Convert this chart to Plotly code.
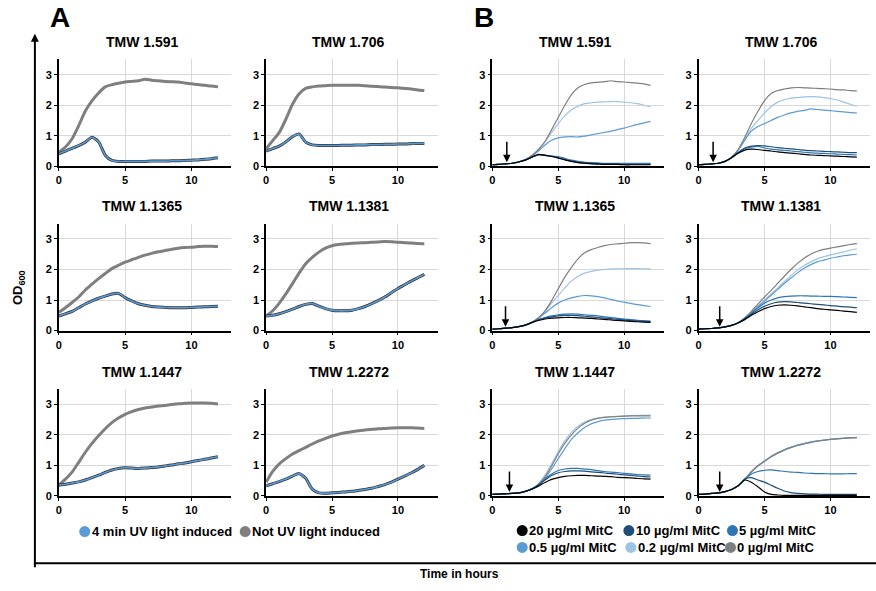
import plotly.graph_objects as go

# ---------------- data ----------------
T = [0, 0.5, 1, 1.5, 2, 2.5, 3, 3.5, 4, 4.5, 5, 5.5, 6, 6.5, 7, 7.5, 8, 8.5, 9, 9.5, 10, 10.5, 11, 11.5, 12]

STRAINS = ["TMW 1.591", "TMW 1.706", "TMW 1.1365", "TMW 1.1381", "TMW 1.1447", "TMW 1.2272"]
X_TICKS = [0, 5, 10]
Y_TICKS = [0, 1, 2, 3]

# Panel A: UV induced / not induced
A_UV_591 = [0.41, 0.5, 0.59, 0.68, 0.79, 0.95, 0.8, 0.36, 0.19, 0.16, 0.16, 0.16, 0.16, 0.16, 0.17, 0.17, 0.17, 0.18, 0.18, 0.19, 0.2, 0.21, 0.23, 0.25, 0.28]
A_NO_591 = [0.46, 0.63, 0.9, 1.33, 1.81, 2.14, 2.4, 2.6, 2.67, 2.72, 2.76, 2.78, 2.8, 2.85, 2.82, 2.8, 2.78, 2.77, 2.76, 2.73, 2.7, 2.68, 2.65, 2.63, 2.6]
A_UV_706 = [0.5, 0.58, 0.66, 0.8, 0.97, 1.06, 0.79, 0.7, 0.68, 0.68, 0.68, 0.68, 0.69, 0.69, 0.7, 0.7, 0.71, 0.71, 0.72, 0.72, 0.73, 0.73, 0.74, 0.75, 0.75]
A_NO_706 = [0.57, 0.84, 1.11, 1.54, 2.03, 2.37, 2.55, 2.6, 2.63, 2.64, 2.65, 2.65, 2.65, 2.65, 2.65, 2.64, 2.62, 2.61, 2.6, 2.58, 2.57, 2.55, 2.53, 2.5, 2.48]
A_UV_1365 = [0.48, 0.55, 0.63, 0.75, 0.87, 0.97, 1.06, 1.13, 1.2, 1.22, 1.08, 0.97, 0.88, 0.83, 0.79, 0.77, 0.76, 0.75, 0.75, 0.75, 0.76, 0.77, 0.78, 0.79, 0.8]
A_NO_1365 = [0.6, 0.75, 0.92, 1.1, 1.33, 1.52, 1.7, 1.87, 2.03, 2.14, 2.24, 2.32, 2.4, 2.47, 2.53, 2.58, 2.62, 2.66, 2.7, 2.72, 2.73, 2.75, 2.76, 2.76, 2.75]
A_UV_1381 = [0.48, 0.5, 0.55, 0.62, 0.7, 0.79, 0.86, 0.89, 0.8, 0.72, 0.67, 0.65, 0.65, 0.67, 0.72, 0.79, 0.88, 0.98, 1.1, 1.24, 1.38, 1.5, 1.62, 1.73, 1.84]
A_NO_1381 = [0.48, 0.65, 0.9, 1.2, 1.54, 1.88, 2.19, 2.4, 2.57, 2.7, 2.78, 2.82, 2.84, 2.86, 2.87, 2.88, 2.89, 2.9, 2.92, 2.91, 2.89, 2.88, 2.87, 2.85, 2.84]
A_UV_1447 = [0.35, 0.38, 0.42, 0.46, 0.52, 0.6, 0.68, 0.77, 0.85, 0.9, 0.92, 0.91, 0.9, 0.91, 0.93, 0.95, 0.98, 1.01, 1.05, 1.08, 1.12, 1.16, 1.2, 1.24, 1.28]
A_NO_1447 = [0.35, 0.55, 0.78, 1.1, 1.43, 1.72, 1.97, 2.2, 2.4, 2.55, 2.67, 2.76, 2.83, 2.88, 2.91, 2.94, 2.96, 2.99, 3.02, 3.03, 3.04, 3.04, 3.04, 3.03, 3.01]
A_UV_2272 = [0.33, 0.4, 0.47, 0.55, 0.65, 0.73, 0.58, 0.22, 0.1, 0.09, 0.1, 0.11, 0.13, 0.15, 0.18, 0.21, 0.25, 0.31, 0.37, 0.45, 0.55, 0.65, 0.75, 0.87, 1.0]
A_NO_2272 = [0.45, 0.8, 1.05, 1.22, 1.37, 1.48, 1.59, 1.7, 1.8, 1.88, 1.96, 2.02, 2.07, 2.1, 2.13, 2.16, 2.18, 2.2, 2.21, 2.22, 2.23, 2.23, 2.23, 2.22, 2.21]

A_LABELS = ["4 min UV light induced", "Not UV light induced"]

# Panel B: mitomycin C concentrations (20, 10, 5, 0.5, 0.2, 0 µg/ml)
B_591_20 = [0.05, 0.06, 0.08, 0.1, 0.14, 0.2, 0.3, 0.39, 0.36, 0.32, 0.27, 0.21, 0.16, 0.12, 0.1, 0.08, 0.07, 0.06, 0.06, 0.06, 0.05, 0.05, 0.05, 0.05, 0.05]
B_591_10 = [0.05, 0.06, 0.08, 0.1, 0.14, 0.2, 0.3, 0.38, 0.37, 0.33, 0.28, 0.22, 0.17, 0.13, 0.11, 0.1, 0.09, 0.08, 0.08, 0.08, 0.07, 0.07, 0.07, 0.07, 0.07]
B_591_5 = [0.05, 0.06, 0.08, 0.1, 0.14, 0.2, 0.3, 0.37, 0.36, 0.33, 0.32, 0.26, 0.2, 0.16, 0.13, 0.12, 0.11, 0.1, 0.1, 0.1, 0.1, 0.1, 0.1, 0.1, 0.1]
B_591_05 = [0.05, 0.06, 0.08, 0.1, 0.14, 0.22, 0.34, 0.5, 0.7, 0.85, 0.93, 0.96, 0.97, 0.96, 0.99, 1.03, 1.07, 1.11, 1.15, 1.2, 1.25, 1.31, 1.37, 1.42, 1.47]
B_591_02 = [0.05, 0.06, 0.08, 0.1, 0.14, 0.22, 0.35, 0.55, 0.8, 1.1, 1.4, 1.65, 1.85, 1.97, 2.05, 2.08, 2.1, 2.11, 2.12, 2.12, 2.1, 2.08, 2.05, 2.0, 1.95]
B_591_0 = [0.05, 0.06, 0.08, 0.1, 0.14, 0.22, 0.35, 0.55, 0.82, 1.2, 1.6, 2.0, 2.35, 2.57, 2.68, 2.73, 2.75, 2.77, 2.8, 2.77, 2.76, 2.74, 2.72, 2.7, 2.65]

B_706_20 = [0.05, 0.06, 0.08, 0.1, 0.16, 0.28, 0.43, 0.53, 0.56, 0.55, 0.52, 0.5, 0.47, 0.45, 0.43, 0.41, 0.39, 0.37, 0.36, 0.35, 0.34, 0.33, 0.32, 0.31, 0.3]
B_706_10 = [0.05, 0.06, 0.08, 0.1, 0.16, 0.28, 0.45, 0.6, 0.66, 0.68, 0.67, 0.64, 0.61, 0.59, 0.57, 0.55, 0.53, 0.51, 0.5, 0.49, 0.48, 0.47, 0.46, 0.45, 0.45]
B_706_5 = [0.05, 0.06, 0.08, 0.1, 0.16, 0.28, 0.45, 0.58, 0.63, 0.65, 0.6, 0.56, 0.54, 0.52, 0.5, 0.48, 0.46, 0.44, 0.43, 0.42, 0.41, 0.4, 0.39, 0.38, 0.37]
B_706_05 = [0.05, 0.06, 0.08, 0.1, 0.16, 0.3, 0.52, 0.85, 1.15, 1.3, 1.4, 1.5, 1.6, 1.68, 1.75, 1.8, 1.83, 1.88, 1.86, 1.84, 1.82, 1.8, 1.78, 1.76, 1.75]
B_706_02 = [0.05, 0.06, 0.08, 0.1, 0.16, 0.3, 0.53, 0.88, 1.25, 1.5, 1.75, 1.95, 2.1, 2.18, 2.23, 2.25, 2.27, 2.28, 2.27, 2.25, 2.22, 2.17, 2.1, 2.03, 1.97]
B_706_0 = [0.05, 0.06, 0.08, 0.1, 0.16, 0.3, 0.55, 0.95, 1.4, 1.8, 2.15, 2.38, 2.48, 2.53, 2.57, 2.58, 2.57, 2.56, 2.55, 2.54, 2.53, 2.51, 2.5, 2.48, 2.47]

B_1365_20 = [0.05, 0.06, 0.08, 0.1, 0.13, 0.18, 0.26, 0.33, 0.38, 0.41, 0.42, 0.43, 0.43, 0.42, 0.41, 0.4, 0.38, 0.37, 0.35, 0.33, 0.32, 0.3, 0.29, 0.28, 0.27]
B_1365_10 = [0.05, 0.06, 0.08, 0.1, 0.13, 0.18, 0.27, 0.35, 0.41, 0.45, 0.48, 0.5, 0.5, 0.49, 0.47, 0.45, 0.43, 0.41, 0.39, 0.37, 0.35, 0.33, 0.32, 0.31, 0.3]
B_1365_5 = [0.05, 0.06, 0.08, 0.1, 0.13, 0.18, 0.27, 0.36, 0.43, 0.48, 0.52, 0.54, 0.55, 0.54, 0.52, 0.5, 0.48, 0.45, 0.43, 0.4, 0.38, 0.36, 0.34, 0.32, 0.3]
B_1365_05 = [0.05, 0.06, 0.08, 0.1, 0.13, 0.18, 0.27, 0.4, 0.57, 0.75, 0.9, 1.0, 1.07, 1.12, 1.15, 1.14, 1.11, 1.07, 1.02, 0.97, 0.93, 0.89, 0.85, 0.82, 0.79]
B_1365_02 = [0.05, 0.06, 0.08, 0.1, 0.13, 0.18, 0.27, 0.42, 0.62, 0.9, 1.15, 1.4, 1.62, 1.78, 1.88, 1.94, 1.98, 2.0, 2.02, 2.02, 2.03, 2.03, 2.03, 2.02, 2.02]
B_1365_0 = [0.05, 0.06, 0.08, 0.1, 0.13, 0.18, 0.27, 0.42, 0.65, 0.98, 1.37, 1.75, 2.07, 2.35, 2.55, 2.65, 2.72, 2.78, 2.82, 2.84, 2.86, 2.88, 2.88, 2.87, 2.85]

B_1381_20 = [0.05, 0.06, 0.07, 0.09, 0.12, 0.17, 0.25, 0.36, 0.5, 0.62, 0.72, 0.79, 0.83, 0.84, 0.83, 0.81, 0.78, 0.75, 0.72, 0.7, 0.68, 0.66, 0.64, 0.62, 0.6]
B_1381_10 = [0.05, 0.06, 0.07, 0.09, 0.12, 0.17, 0.26, 0.38, 0.53, 0.68, 0.8, 0.88, 0.93, 0.95, 0.94, 0.92, 0.9, 0.88, 0.86, 0.84, 0.82, 0.8, 0.78, 0.77, 0.75]
B_1381_5 = [0.05, 0.06, 0.07, 0.09, 0.12, 0.17, 0.26, 0.4, 0.57, 0.75, 0.9, 1.0, 1.07, 1.11, 1.13, 1.14, 1.14, 1.13, 1.13, 1.12, 1.12, 1.11, 1.1, 1.09, 1.08]
B_1381_05 = [0.05, 0.06, 0.07, 0.09, 0.12, 0.17, 0.26, 0.4, 0.58, 0.78, 0.97, 1.16, 1.35, 1.54, 1.72, 1.89, 2.04, 2.16, 2.25, 2.31, 2.37, 2.41, 2.45, 2.48, 2.5]
B_1381_02 = [0.05, 0.06, 0.07, 0.09, 0.12, 0.17, 0.26, 0.4, 0.6, 0.8, 1.0, 1.2, 1.4, 1.6, 1.8, 1.98, 2.13, 2.25, 2.35, 2.42, 2.48, 2.53, 2.58, 2.63, 2.68]
B_1381_0 = [0.05, 0.06, 0.07, 0.09, 0.12, 0.17, 0.26, 0.42, 0.63, 0.87, 1.1, 1.32, 1.55, 1.78, 2.0, 2.2, 2.37, 2.5, 2.6, 2.66, 2.7, 2.74, 2.78, 2.82, 2.85]

B_1447_20 = [0.05, 0.06, 0.07, 0.08, 0.1, 0.15, 0.22, 0.32, 0.44, 0.54, 0.6, 0.64, 0.66, 0.67, 0.67, 0.66, 0.65, 0.64, 0.63, 0.61, 0.6, 0.59, 0.57, 0.56, 0.55]
B_1447_10 = [0.05, 0.06, 0.07, 0.08, 0.1, 0.15, 0.23, 0.35, 0.52, 0.67, 0.76, 0.8, 0.82, 0.82, 0.81, 0.79, 0.77, 0.75, 0.73, 0.71, 0.69, 0.67, 0.65, 0.63, 0.62]
B_1447_5 = [0.05, 0.06, 0.07, 0.08, 0.1, 0.15, 0.23, 0.36, 0.55, 0.72, 0.83, 0.88, 0.9, 0.9, 0.88, 0.86, 0.83, 0.8, 0.78, 0.76, 0.74, 0.72, 0.7, 0.69, 0.68]
B_1447_05 = [0.05, 0.06, 0.07, 0.08, 0.1, 0.15, 0.23, 0.37, 0.58, 0.88, 1.22, 1.55, 1.85, 2.07, 2.24, 2.36, 2.43, 2.48, 2.5, 2.52, 2.53, 2.54, 2.54, 2.55, 2.55]
B_1447_02 = [0.05, 0.06, 0.07, 0.08, 0.1, 0.15, 0.23, 0.4, 0.68, 1.05, 1.45, 1.8, 2.08, 2.28, 2.42, 2.5, 2.55, 2.58, 2.6, 2.61, 2.62, 2.63, 2.64, 2.64, 2.65]
B_1447_0 = [0.05, 0.06, 0.07, 0.08, 0.1, 0.15, 0.23, 0.38, 0.62, 0.98, 1.38, 1.72, 2.0, 2.22, 2.38, 2.48, 2.54, 2.57, 2.59, 2.6, 2.61, 2.62, 2.62, 2.62, 2.62]

B_2272_20 = [0.05, 0.06, 0.08, 0.1, 0.14, 0.21, 0.33, 0.52, 0.45, 0.3, 0.13, 0.05, 0.03, 0.02, 0.02, 0.02, 0.02, 0.02, 0.02, 0.02, 0.02, 0.02, 0.02, 0.02, 0.02]
B_2272_10 = [0.05, 0.06, 0.08, 0.1, 0.14, 0.21, 0.33, 0.55, 0.6, 0.52, 0.45, 0.35, 0.25, 0.16, 0.11, 0.08, 0.07, 0.06, 0.06, 0.05, 0.05, 0.05, 0.05, 0.05, 0.05]
B_2272_5 = [0.05, 0.06, 0.08, 0.1, 0.14, 0.21, 0.33, 0.53, 0.72, 0.8, 0.84, 0.85, 0.83, 0.8, 0.78, 0.77, 0.75, 0.74, 0.73, 0.73, 0.72, 0.72, 0.72, 0.73, 0.73]
B_2272_05 = [0.05, 0.06, 0.08, 0.1, 0.14, 0.21, 0.33, 0.55, 0.79, 0.99, 1.14, 1.29, 1.41, 1.51, 1.59, 1.66, 1.71, 1.76, 1.8, 1.83, 1.85, 1.87, 1.89, 1.9, 1.91]
B_2272_02 = [0.05, 0.06, 0.08, 0.1, 0.14, 0.21, 0.33, 0.55, 0.8, 1.0, 1.15, 1.3, 1.42, 1.52, 1.6, 1.67, 1.72, 1.77, 1.8, 1.83, 1.86, 1.88, 1.89, 1.91, 1.92]
B_2272_0 = [0.05, 0.06, 0.08, 0.1, 0.14, 0.21, 0.33, 0.55, 0.78, 0.98, 1.13, 1.28, 1.4, 1.5, 1.58, 1.65, 1.7, 1.75, 1.79, 1.82, 1.85, 1.87, 1.88, 1.9, 1.91]

B_LABELS = ["20 µg/ml MitC", "10 µg/ml MitC", "5 µg/ml MitC", "0.5 µg/ml MitC", "0.2 µg/ml MitC", "0 µg/ml MitC"]
# time of MitC addition (arrow) per strain, hours
B_ARROW_T = [1.1, 1.1, 1.0, 1.6, 1.3, 1.6]

A_DATA = [(A_UV_591, A_NO_591), (A_UV_706, A_NO_706), (A_UV_1365, A_NO_1365),
          (A_UV_1381, A_NO_1381), (A_UV_1447, A_NO_1447), (A_UV_2272, A_NO_2272)]
B_DATA = [
    [B_591_20, B_591_10, B_591_5, B_591_05, B_591_02, B_591_0],
    [B_706_20, B_706_10, B_706_5, B_706_05, B_706_02, B_706_0],
    [B_1365_20, B_1365_10, B_1365_5, B_1365_05, B_1365_02, B_1365_0],
    [B_1381_20, B_1381_10, B_1381_5, B_1381_05, B_1381_02, B_1381_0],
    [B_1447_20, B_1447_10, B_1447_5, B_1447_05, B_1447_02, B_1447_0],
    [B_2272_20, B_2272_10, B_2272_5, B_2272_05, B_2272_02, B_2272_0],
]

# ---------------- style ----------------
W, H = 876, 591
FONT = "Liberation Sans, Arial, sans-serif"
C_UV = "#5b9bd5"
C_NO = "#7f7f7f"
B_COLORS = ["#000000", "#1f4e79", "#2e75b6", "#5b9bd5", "#9dc3e6", "#7f7f7f"]
B_ORDER = [4, 3, 5, 2, 1, 0]  # draw order (light first)

COL_PX = [(56, 229), (264, 436), (491, 663), (698, 870)]
ROW_PX = [(60, 168), (226, 334), (393, 501)]
TITLE_Y = [42, 208, 376]


def px_x(p):
    return p / W


def px_y(p):
    return 1 - p / H


fig = go.Figure()
layout = {}
annotations = []
shapes = []

panel = 0
for part in ("A", "B"):
    for r in range(3):
        for c in range(2):
            col = c if part == "A" else c + 2
            strain_i = r * 2 + c
            panel += 1
            xa = "x" if panel == 1 else f"x{panel}"
            ya = "y" if panel == 1 else f"y{panel}"
            x0, x1 = COL_PX[col]
            y0, y1 = ROW_PX[r]
            axis_common = dict(
                showline=True, linecolor="black", linewidth=1.6,
                showgrid=True, gridcolor="#d9d9d9", gridwidth=1,
                zeroline=False, ticks="outside", ticklen=3, tickwidth=1.2,
                tickcolor="black",
                tickfont=dict(family=FONT, size=11, color="black", weight="bold"),
            )
            layout["xaxis" if panel == 1 else f"xaxis{panel}"] = dict(
                domain=[px_x(x0), px_x(x1)], anchor=ya, range=[0, 13],
                tickvals=X_TICKS, **axis_common)
            layout["yaxis" if panel == 1 else f"yaxis{panel}"] = dict(
                domain=[px_y(y1), px_y(y0)], anchor=xa, range=[0, 3.5],
                tickvals=Y_TICKS, **axis_common)
            annotations.append(dict(
                text=f"<b>{STRAINS[strain_i]}</b>", x=px_x((x0 + x1) / 2 - 3), y=px_y(TITLE_Y[r]),
                xref="paper", yref="paper", showarrow=False,
                font=dict(family=FONT, size=14, color="black"),
                xanchor="center", yanchor="middle"))
            if part == "A":
                uv, no = A_DATA[strain_i]
                fig.add_trace(go.Scatter(x=T, y=no, xaxis=xa, yaxis=ya, mode="lines",
                                         line=dict(color=C_NO, width=3, shape="spline", smoothing=0.6),
                                         name=A_LABELS[1], showlegend=False))
                fig.add_trace(go.Scatter(x=T, y=uv, xaxis=xa, yaxis=ya, mode="lines",
                                         line=dict(color="#333333", width=3, shape="spline", smoothing=0.6),
                                         showlegend=False, hoverinfo="skip"))
                fig.add_trace(go.Scatter(x=T, y=uv, xaxis=xa, yaxis=ya, mode="lines",
                                         line=dict(color=C_UV, width=1.6, shape="spline", smoothing=0.6),
                                         name=A_LABELS[0], showlegend=False))
            else:
                series = B_DATA[strain_i]
                for k in B_ORDER:
                    fig.add_trace(go.Scatter(x=T, y=series[k], xaxis=xa, yaxis=ya, mode="lines",
                                             line=dict(color=B_COLORS[k], width=1.2, shape="spline", smoothing=0.6),
                                             name=B_LABELS[k], showlegend=False))
                at = B_ARROW_T[strain_i]
                annotations.append(dict(
                    x=at, y=0.13, ax=at, ay=0.85, xref=xa, yref=ya, axref=xa, ayref=ya,
                    showarrow=True, arrowhead=2, arrowsize=1, arrowwidth=1.5,
                    arrowcolor="black", text=""))

# panel letters
annotations.append(dict(text="<b>A</b>", x=px_x(57), y=px_y(18), xref="paper", yref="paper",
                        xanchor="center", yanchor="middle",
                        showarrow=False, font=dict(family=FONT, size=28, color="black")))
annotations.append(dict(text="<b>B</b>", x=px_x(483), y=px_y(18), xref="paper", yref="paper",
                        xanchor="center", yanchor="middle",
                        showarrow=False, font=dict(family=FONT, size=28, color="black")))

# outer axes
shapes.append(dict(type="line", xref="paper", yref="paper", x0=px_x(32), x1=px_x(876),
                   y0=px_y(569), y1=px_y(569), line=dict(color="black", width=2)))
annotations.append(dict(x=px_x(32), y=px_y(34), ax=0, ay=569 - 34, xref="paper", yref="paper",
                        axref="pixel", ayref="pixel", showarrow=True, arrowhead=2, arrowsize=0.8,
                        arrowwidth=2, arrowcolor="black", text=""))
annotations.append(dict(text="<b>OD<sub>600</sub></b>", x=px_x(15), y=px_y(290), xref="paper", yref="paper",
                        xanchor="center", yanchor="middle",
                        showarrow=False, textangle=-90, font=dict(family=FONT, size=13, color="black")))
annotations.append(dict(text="<b>Time in hours</b>", x=px_x(458), y=px_y(580), xref="paper", yref="paper",
                        xanchor="center", yanchor="middle",
                        showarrow=False, font=dict(family=FONT, size=12, color="black")))

# legends (marker dot + label)
def legend_item(cx, cy, color, label):
    shapes.append(dict(type="circle", xref="paper", yref="paper", xsizemode="pixel", ysizemode="pixel",
                       xanchor=px_x(cx), yanchor=px_y(cy), x0=-5.5, x1=5.5, y0=-5.5, y1=5.5,
                       fillcolor=color, line=dict(width=0)))
    annotations.append(dict(text=f"<b>{label}</b>", x=px_x(cx + 5), y=px_y(cy), xref="paper", yref="paper",
                            showarrow=False, xanchor="left", yanchor="middle",
                            font=dict(family=FONT, size=13, color="black")))

legend_item(82, 537, C_UV, A_LABELS[0])
legend_item(243, 537, C_NO, A_LABELS[1])
B_LEG_POS = [(521, 536), (628, 536), (732, 536), (521, 553), (630, 553), (730, 553)]
for k, (cx, cy) in enumerate(B_LEG_POS):
    legend_item(cx, cy, B_COLORS[k], B_LABELS[k])

fig.update_layout(
    width=W, height=H, margin=dict(l=0, r=0, t=0, b=0),
    paper_bgcolor="white", plot_bgcolor="white",
    font=dict(family=FONT, color="black"),
    annotations=annotations, shapes=shapes, showlegend=False,
    **layout)

fig.write_html("out.html", config={"displayModeBar": False},
               post_script="document.body.style.margin='0px';document.body.style.overflow='hidden';")
